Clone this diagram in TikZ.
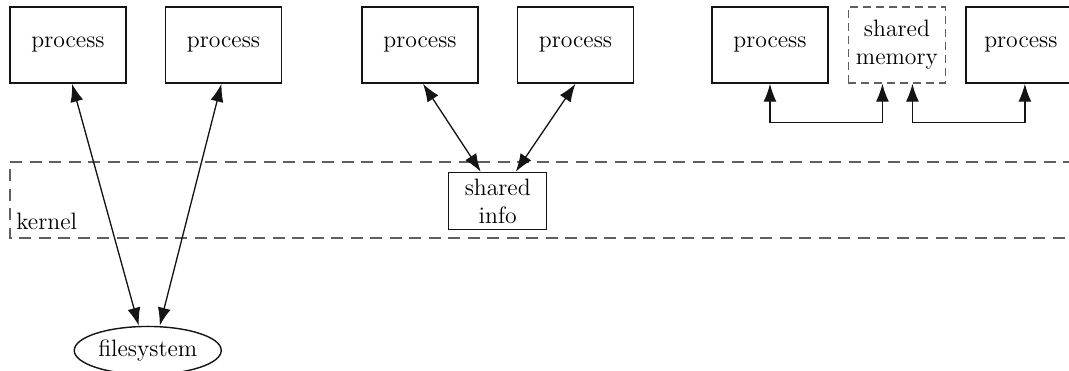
\documentclass[tikz,border=0pt]{standalone}
\usepackage{tikz}
\usetikzlibrary{shapes.geometric, arrows.meta, positioning, calc}
\definecolor{mydark}{RGB}{20,20,20}
\definecolor{mygray}{RGB}{95,95,95}
\newcommand{\labfont}{\fontsize{13.5}{16}\selectfont}
\tikzset{
  procbox/.style={rectangle, draw=mydark, minimum width=2.32cm,
    minimum height=1.52cm, inner sep=0pt, align=center,
    font=\labfont, line width=0.85pt},
  shmbox/.style={rectangle, draw=mygray, dash pattern=on 0.16cm off 0.1cm,
    minimum width=1.94cm, minimum height=1.52cm, inner sep=0pt,
    align=center, font=\labfont, line width=0.8pt},
  infobox/.style={rectangle, draw=mydark, minimum width=1.96cm,
    minimum height=1.14cm, inner sep=0pt, align=center,
    font=\labfont, line width=0.85pt},
  fsnode/.style={ellipse, draw=mydark, minimum width=2.94cm,
    minimum height=0.96cm, inner sep=0pt, font=\labfont, line width=0.8pt},
  kernline/.style={draw=mygray, dash pattern=on 0.24cm off 0.15cm, line width=0.8pt},
  dblarrow/.style={{Latex[length=3.6mm,width=2.6mm]}-{Latex[length=3.6mm,width=2.6mm]},
    line width=0.75pt, color=mydark}
}

\begin{document}
\begin{tikzpicture}[node distance=0.76cm and 0.76cm]
  \useasboundingbox (0,0) rectangle (21.38,-7.42);

  % Processes
  \node[procbox] (p1) at (1.36,-0.9) {process};
  \node[procbox, right=0.76cm of p1] (p2) {process};
  \node[procbox, right=1.58cm of p2] (p3) {process};
  \node[procbox, right=0.76cm of p3] (p4) {process};
  \node[procbox, right=1.54cm of p4] (p5) {process};
  \node[shmbox, right=0.38cm of p5] (shm) {shared\\memory};
  \node[procbox, minimum width=2.2cm, right=0.38cm of shm] (p6) {process};

  % Kernel
  \coordinate (ktl) at (0.2,-3.24);
  \coordinate (kbl) at (0.2,-4.76);
  \coordinate (ktr) at (21.5,-3.24);
  \coordinate (kbr) at (21.5,-4.76);
  \draw[kernline] (ktr) -- (ktl) -- (kbl) -- (kbr);
  \node[anchor=base west, inner sep=0pt, font=\labfont] (klab) at ($(kbl)+(0.12,0.16)$) {kernel};
  \node[infobox, below=1.76cm of $(p3.south)!0.5!(p4.south)$] (info) {shared\\info};

  % Filesystem
  \node[fsnode, below=4.84cm of $(p1.south)!0.5!(p2.south)$, xshift=0.04cm] (fs) {filesystem};

  % Paths
  \draw[dblarrow] ([xshift=0.08cm]p1.south) -- ([xshift=-0.18cm]fs.north);
  \draw[dblarrow] ([xshift=-0.04cm]p2.south) -- ([xshift=0.24cm]fs.north);
  \draw[dblarrow] ([xshift=0.06cm]p3.south) -- ([xshift=-0.34cm]info.north);
  \draw[dblarrow] (p4.south) -- ([xshift=0.36cm]info.north);
  \draw[dblarrow] (p5.south) -- ++(0,-0.78) -| ([xshift=-0.29cm]shm.south);
  \draw[dblarrow] ([xshift=0.08cm]p6.south) -- ++(0,-0.78) -| ([xshift=0.31cm]shm.south);
\end{tikzpicture}
\end{document}
